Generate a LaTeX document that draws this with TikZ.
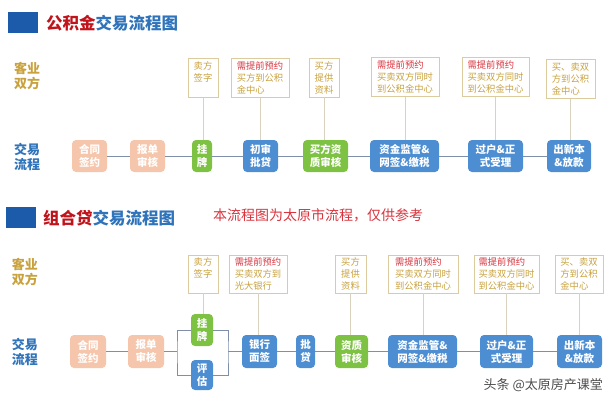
\documentclass[tikz,border=0pt]{standalone}
\usepackage{fontspec}
\setmainfont{Noto Sans CJK SC}
\usepackage{tikz}
\usetikzlibrary{arrows.meta, positioning, calc}

\definecolor{titleblue}{HTML}{2F73BA}
\definecolor{titlered}{HTML}{C0141C}
\definecolor{squareblue}{HTML}{1C5BAA}
\definecolor{peach}{HTML}{F5C6AC}
\definecolor{leaf}{HTML}{7DC243}
\definecolor{sky}{HTML}{4D8ED3}
\definecolor{tan}{HTML}{DCCB9E}
\definecolor{gold}{HTML}{C9A23E}
\definecolor{alert}{HTML}{D8343E}
\definecolor{flowline}{HTML}{7F8FAA}
\definecolor{stem}{HTML}{D9D2BE}

\begin{document}
\begin{tikzpicture}[
  x=1pt, y=-1pt,
  step box/.style={
    rounded corners=4pt, inner sep=0pt, align=center, text=white,
    font=\fontsize{10.5}{13}\selectfont\bfseries, minimum height=32pt
  },
  peachbox/.style={step box, fill=peach},
  greenbox/.style={step box, fill=leaf},
  bluebox/.style={step box, fill=sky},
  memo/.style={
    draw=tan, line width=0.7pt, fill=white, align=left, text=gold,
    inner xsep=4pt, inner ysep=0pt, minimum height=39pt, anchor=center,
    font=\fontsize{9.3}{12}\selectfont
  },
  flow/.style={draw=flowline, line width=0.8pt},
  link/.style={draw=stem, line width=0.7pt},
  side/.style={font=\fontsize{13}{15}\selectfont\bfseries, align=left},
  heading/.style={font=\fontsize{16.5}{18}\selectfont\bfseries, anchor=west, inner sep=0pt}
]
  \useasboundingbox (0,0) rectangle (616,404);

  % section 1
  \fill[squareblue] (8,12) rectangle (38,33);
  \node[heading] (t1) at (46,23) {\textcolor{titlered}{公积金}\textcolor{titleblue}{交易流程图}};
  \node[side, text=gold] (k1) at (27,76) {客业\\双方};
  \node[side, text=titleblue] (j1) at (27,157) {交易\\流程};

  \node[peachbox, minimum width=35pt] (a1) at (89.5,156) {合同\\签约};
  \node[peachbox, minimum width=35pt] (a2) at (147.5,156) {报单\\审核};
  \node[greenbox, minimum width=20pt] (a3) at (202,156) {挂\\牌};
  \node[bluebox, minimum width=35pt] (a4) at (260.5,156) {初审\\批贷};
  \node[greenbox, minimum width=45pt] (a5) at (325.5,156) {买方资\\质审核};
  \node[bluebox, minimum width=69pt] (a6) at (404.5,156) {资金监管\&\\网签\&缴税};
  \node[bluebox, minimum width=55pt] (a7) at (495.5,156) {过户\&正\\式受理};
  \node[bluebox, minimum width=44pt] (a8) at (569,156) {出新本\\\&放款};
  \draw[flow] (a1) -- (a2) -- (a3) -- (a4) -- (a5) -- (a6) -- (a7) -- (a8);

  \node[memo, minimum width=30pt] (n3) at (203,78) {卖方\\签字\\\phantom{金}};
  \node[memo, minimum width=58pt] (n4) at (260,78) {\textcolor{alert}{需提前预约}\\买方到公积\\金中心};
  \node[memo, minimum width=30pt] (n5) at (324,77.5) {买方\\提供\\资料};
  \node[memo, minimum width=68pt] (n6) at (405,77) {\textcolor{alert}{需提前预约}\\买卖双方同时\\到公积金中心};
  \node[memo, minimum width=67pt] (n7) at (495.5,77) {\textcolor{alert}{需提前预约}\\买卖双方同时\\到公积金中心};
  \node[memo, minimum width=49pt] (n8) at (570.5,79) {买、卖双\\方到公积\\金中心};
  \foreach \n/\b in {n3/a3, n4/a4, n5/a5, n6/a6, n7/a7, n8/a8}
    \draw[link] (\n.south) -- (\n.south |- \b.north);

  % section 2
  \fill[squareblue] (6,207) rectangle (36,228);
  \node[heading] (t2) at (43,218) {\textcolor{titlered}{组合贷}\textcolor{titleblue}{交易流程图}};
  \node[anchor=west, inner sep=0pt, text=alert, font=\fontsize{14}{16}\selectfont] (note) at (213,215) {本流程图为太原市流程，仅供参考};
  \node[side, text=gold] (k2) at (25,272) {客业\\双方};
  \node[side, text=titleblue] (j2) at (25,352) {交易\\流程};

  \node[peachbox, minimum width=36pt, minimum height=33pt] (b1) at (88,351.5) {合同\\签约};
  \node[peachbox, minimum width=36pt, minimum height=33pt] (b2) at (146,351.5) {报单\\审核};
  \node[greenbox, minimum width=22pt] (b3) at (202,330) {挂\\牌};
  \node[bluebox, minimum width=22pt, minimum height=30pt] (b3e) at (202,375) {评\\估};
  \node[bluebox, minimum width=35pt, minimum height=33pt] (b4) at (259.5,351.5) {银行\\面签};
  \node[bluebox, minimum width=19pt, minimum height=33pt] (b5) at (305.5,351.5) {批\\贷};
  \node[greenbox, minimum width=33pt, minimum height=33pt] (b6) at (351.5,351.5) {资质\\审核};
  \node[bluebox, minimum width=69pt, minimum height=33pt] (b7) at (422.5,351.5) {资金监管\&\\网签\&缴税};
  \node[bluebox, minimum width=53pt, minimum height=33pt] (b8) at (506.5,351.5) {过户\&正\\式受理};
  \node[bluebox, minimum width=45pt, minimum height=33pt] (b9) at (579.5,351.5) {出新本\\\&放款};
  \coordinate (bl) at (177,351.5);
  \coordinate (br) at (228,351.5);
  \draw[flow] (b1) -- (b2) -- (bl);
  \draw[flow] (b3.west) -| (bl) |- (b3e.west);
  \draw[flow] (b3.east) -| (br) |- (b3e.east);
  \draw[flow] (br) -- (b4) -- (b5) -- (b6) -- (b7) -- (b8) -- (b9);

  \node[memo, minimum width=30pt, minimum height=38pt] (m3) at (203,274) {卖方\\签字\\\phantom{金}};
  \node[memo, minimum width=58pt, minimum height=38pt] (m4) at (258,274) {\textcolor{alert}{需提前预约}\\买卖双方到\\光大银行};
  \node[memo, minimum width=31pt, minimum height=38pt] (m6) at (350.5,274) {买方\\提供\\资料};
  \node[memo, minimum width=70pt, minimum height=38pt] (m7) at (423,274) {\textcolor{alert}{需提前预约}\\买卖双方同时\\到公积金中心};
  \node[memo, minimum width=65pt, minimum height=38pt] (m8) at (506.5,274) {\textcolor{alert}{需提前预约}\\买卖双方同时\\到公积金中心};
  \node[memo, minimum width=48pt, minimum height=38pt] (m9) at (579,274) {买、卖双\\方到公积\\金中心};
  \foreach \n/\b in {m3/b3, m4/b4, m6/b6, m7/b7, m8/b8, m9/b9}
    \draw[link] (\n.south) -- (\n.south |- \b.north);

  \node[anchor=east, inner sep=0pt, text=black!70, font=\fontsize{13}{15}\selectfont] (mark) at (603,385) {头条 @太原房产课堂};
\end{tikzpicture}
\end{document}
